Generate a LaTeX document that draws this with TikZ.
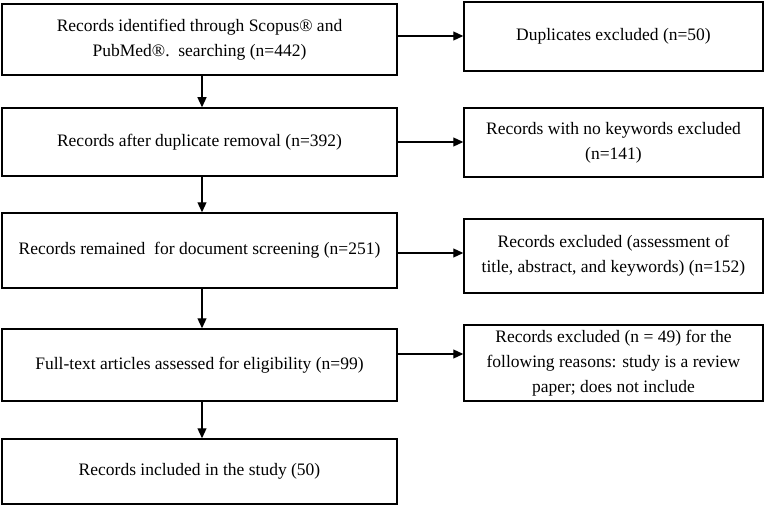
\documentclass[tikz,border=0pt]{standalone}
\usepackage{fontspec}
\setmainfont{Liberation Serif}
\usetikzlibrary{arrows.meta}
\begin{document}
\begin{tikzpicture}[x=1pt,y=-1pt,
  boxL/.style={draw,line width=1.5pt,minimum width=395pt,inner sep=0pt,align=center,font=\fontsize{17.5}{25}\selectfont},
  boxR/.style={draw,line width=1.5pt,minimum width=299pt,inner sep=0pt,align=center,font=\fontsize{17.5}{25}\selectfont},
  arr/.style={line width=1.2pt,-{Triangle[length=10pt,width=9pt]}}]
\useasboundingbox (0,0) rectangle (765,508);
\node[boxL,minimum height=71pt] (L1) at (199.5,39.5) {Records identified through Scopus® and\\PubMed®.\ \ searching (n=442)};
\node[boxL,minimum height=68pt] (L2) at (199.5,142) {Records after duplicate removal (n=392)};
\node[boxL,minimum height=75pt] (L3) at (199.5,250.5) {Records remained\ \ for document screening (n=251)};
\node[boxL,minimum height=72pt] (L4) at (199.5,365) {Full-text articles assessed for eligibility (n=99)};
\node[boxL,minimum height=65pt] (L5) at (199.5,471.5) {Records included in the study (50)};
\node[boxR,minimum height=69pt] (R1) at (613.5,36.5) {Duplicates excluded (n=50)};
\node[boxR,minimum height=69pt] (R2) at (613.5,142.5) {Records with no keywords excluded\\(n=141)};
\node[boxR,minimum height=74pt] (R3) at (613.5,256) {Records excluded (assessment of\\title, abstract, and keywords) (n=152)};
\node[boxR,minimum height=76pt] (R4) at (613.5,363) {Records excluded (n = 49) for the\\following reasons: study is a review\\paper; does not include};
\coordinate (vx) at (202,0);
\coordinate (h1) at (0,36);
\coordinate (h2) at (0,142);
\coordinate (h3) at (0,253);
\coordinate (h4) at (0,354);
\draw[arr] (L1.south -| vx) -- (L2.north -| vx);
\draw[arr] (L2.south -| vx) -- (L3.north -| vx);
\draw[arr] (L3.south -| vx) -- (L4.north -| vx);
\draw[arr] (L4.south -| vx) -- (L5.north -| vx);
\draw[arr] (L1.east |- h1) -- (R1.west |- h1);
\draw[arr] (L2.east |- h2) -- (R2.west |- h2);
\draw[arr] (L3.east |- h3) -- (R3.west |- h3);
\draw[arr] (L4.east |- h4) -- (R4.west |- h4);
\end{tikzpicture}
\end{document}
